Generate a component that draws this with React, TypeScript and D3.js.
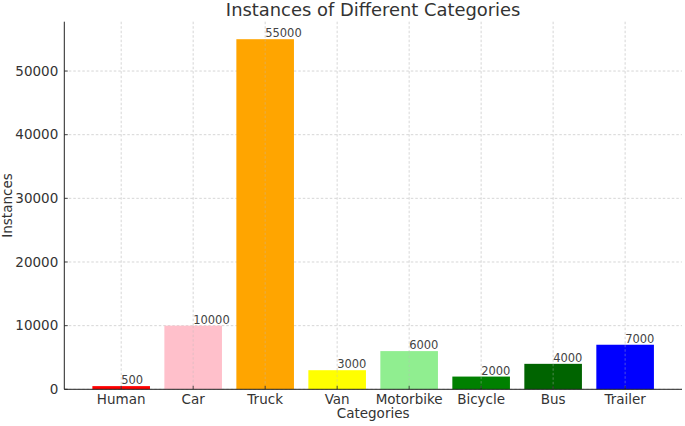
import React from "react";
import * as d3 from "d3";

const categories = ["Human", "Car", "Truck", "Van", "Motorbike", "Bicycle", "Bus", "Trailer"];
const values = [500, 10000, 55000, 3000, 6000, 2000, 4000, 7000];
const colors = ["red", "pink", "orange", "yellow", "lightgreen", "green", "darkgreen", "blue"];
const yTicks = [0, 10000, 20000, 30000, 40000, 50000];

const W = 685;
const H = 426;
const left = 64.3;
const right = 682;
const top = 21.7;
const bottom = 389.3;
const font = "DejaVu Sans, sans-serif";

export default function App() {
  const n = categories.length;
  const x = d3.scaleLinear().domain([-0.79, n - 1 + 0.79]).range([left, right]);
  const y = d3.scaleLinear().domain([0, 57750]).range([bottom, top]);
  const bw = x(0.8) - x(0);

  return (
    <svg width={W} height={H} style={{ position: "absolute", left: 0, top: 0, background: "#fff" }}>
      {yTicks.map((t) => (
        <line key={"gy" + t} x1={left} x2={right} y1={y(t)} y2={y(t)} stroke="#ccc" strokeWidth={0.8} strokeDasharray="2.5,2" />
      ))}
      {categories.map((c, i) => (
        <line key={"gx" + c} x1={x(i)} x2={x(i)} y1={top} y2={bottom} stroke="#ccc" strokeWidth={0.8} strokeDasharray="2.5,2" />
      ))}
      {categories.map((c, i) => (
        <rect key={"b" + c} x={x(i) - bw / 2} y={y(values[i])} width={bw} height={y(0) - y(values[i])} fill={colors[i]} />
      ))}
      {categories.map((c, i) => (
        <line key={"gx2" + c} x1={x(i)} x2={x(i)} y1={y(values[i])} y2={bottom} stroke="#bbb" strokeOpacity={0.5} strokeWidth={0.8} strokeDasharray="2.5,2" />
      ))}
      {categories.map((c, i) => (
        <text key={"v" + c} x={x(i)} y={y(values[i]) - 2} fontFamily={font} fontSize={11.5} fill="#444">
          {values[i]}
        </text>
      ))}
      <line x1={left} x2={left} y1={top} y2={bottom} stroke="#222" strokeWidth={1} />
      <line x1={left} x2={right} y1={bottom} y2={bottom} stroke="#222" strokeWidth={1} />
      {yTicks.map((t) => (
        <g key={"yt" + t}>
          <line x1={left} x2={left + 3.5} y1={y(t)} y2={y(t)} stroke="#222" strokeWidth={0.8} />
          <text x={left - 6} y={y(t)} dy="0.35em" textAnchor="end" fontFamily={font} fontSize={13.5} fill="#333">
            {t}
          </text>
        </g>
      ))}
      {categories.map((c, i) => (
        <g key={"xt" + c}>
          <line x1={x(i)} x2={x(i)} y1={bottom} y2={bottom - 3.5} stroke="#222" strokeWidth={0.8} />
          <text x={x(i)} y={bottom + 15} textAnchor="middle" fontFamily={font} fontSize={13.5} fill="#333">
            {c}
          </text>
        </g>
      ))}
      <text x={(left + right) / 2} y={418} textAnchor="middle" fontFamily={font} fontSize={13.5} fill="#333">
        Categories
      </text>
      <text transform={`translate(12, ${(top + bottom) / 2}) rotate(-90)`} textAnchor="middle" fontFamily={font} fontSize={13.5} fill="#333">
        Instances
      </text>
      <text x={(left + right) / 2} y={16} textAnchor="middle" fontFamily={font} fontSize={17.9} fill="#333">
        Instances of Different Categories
      </text>
    </svg>
  );
}
